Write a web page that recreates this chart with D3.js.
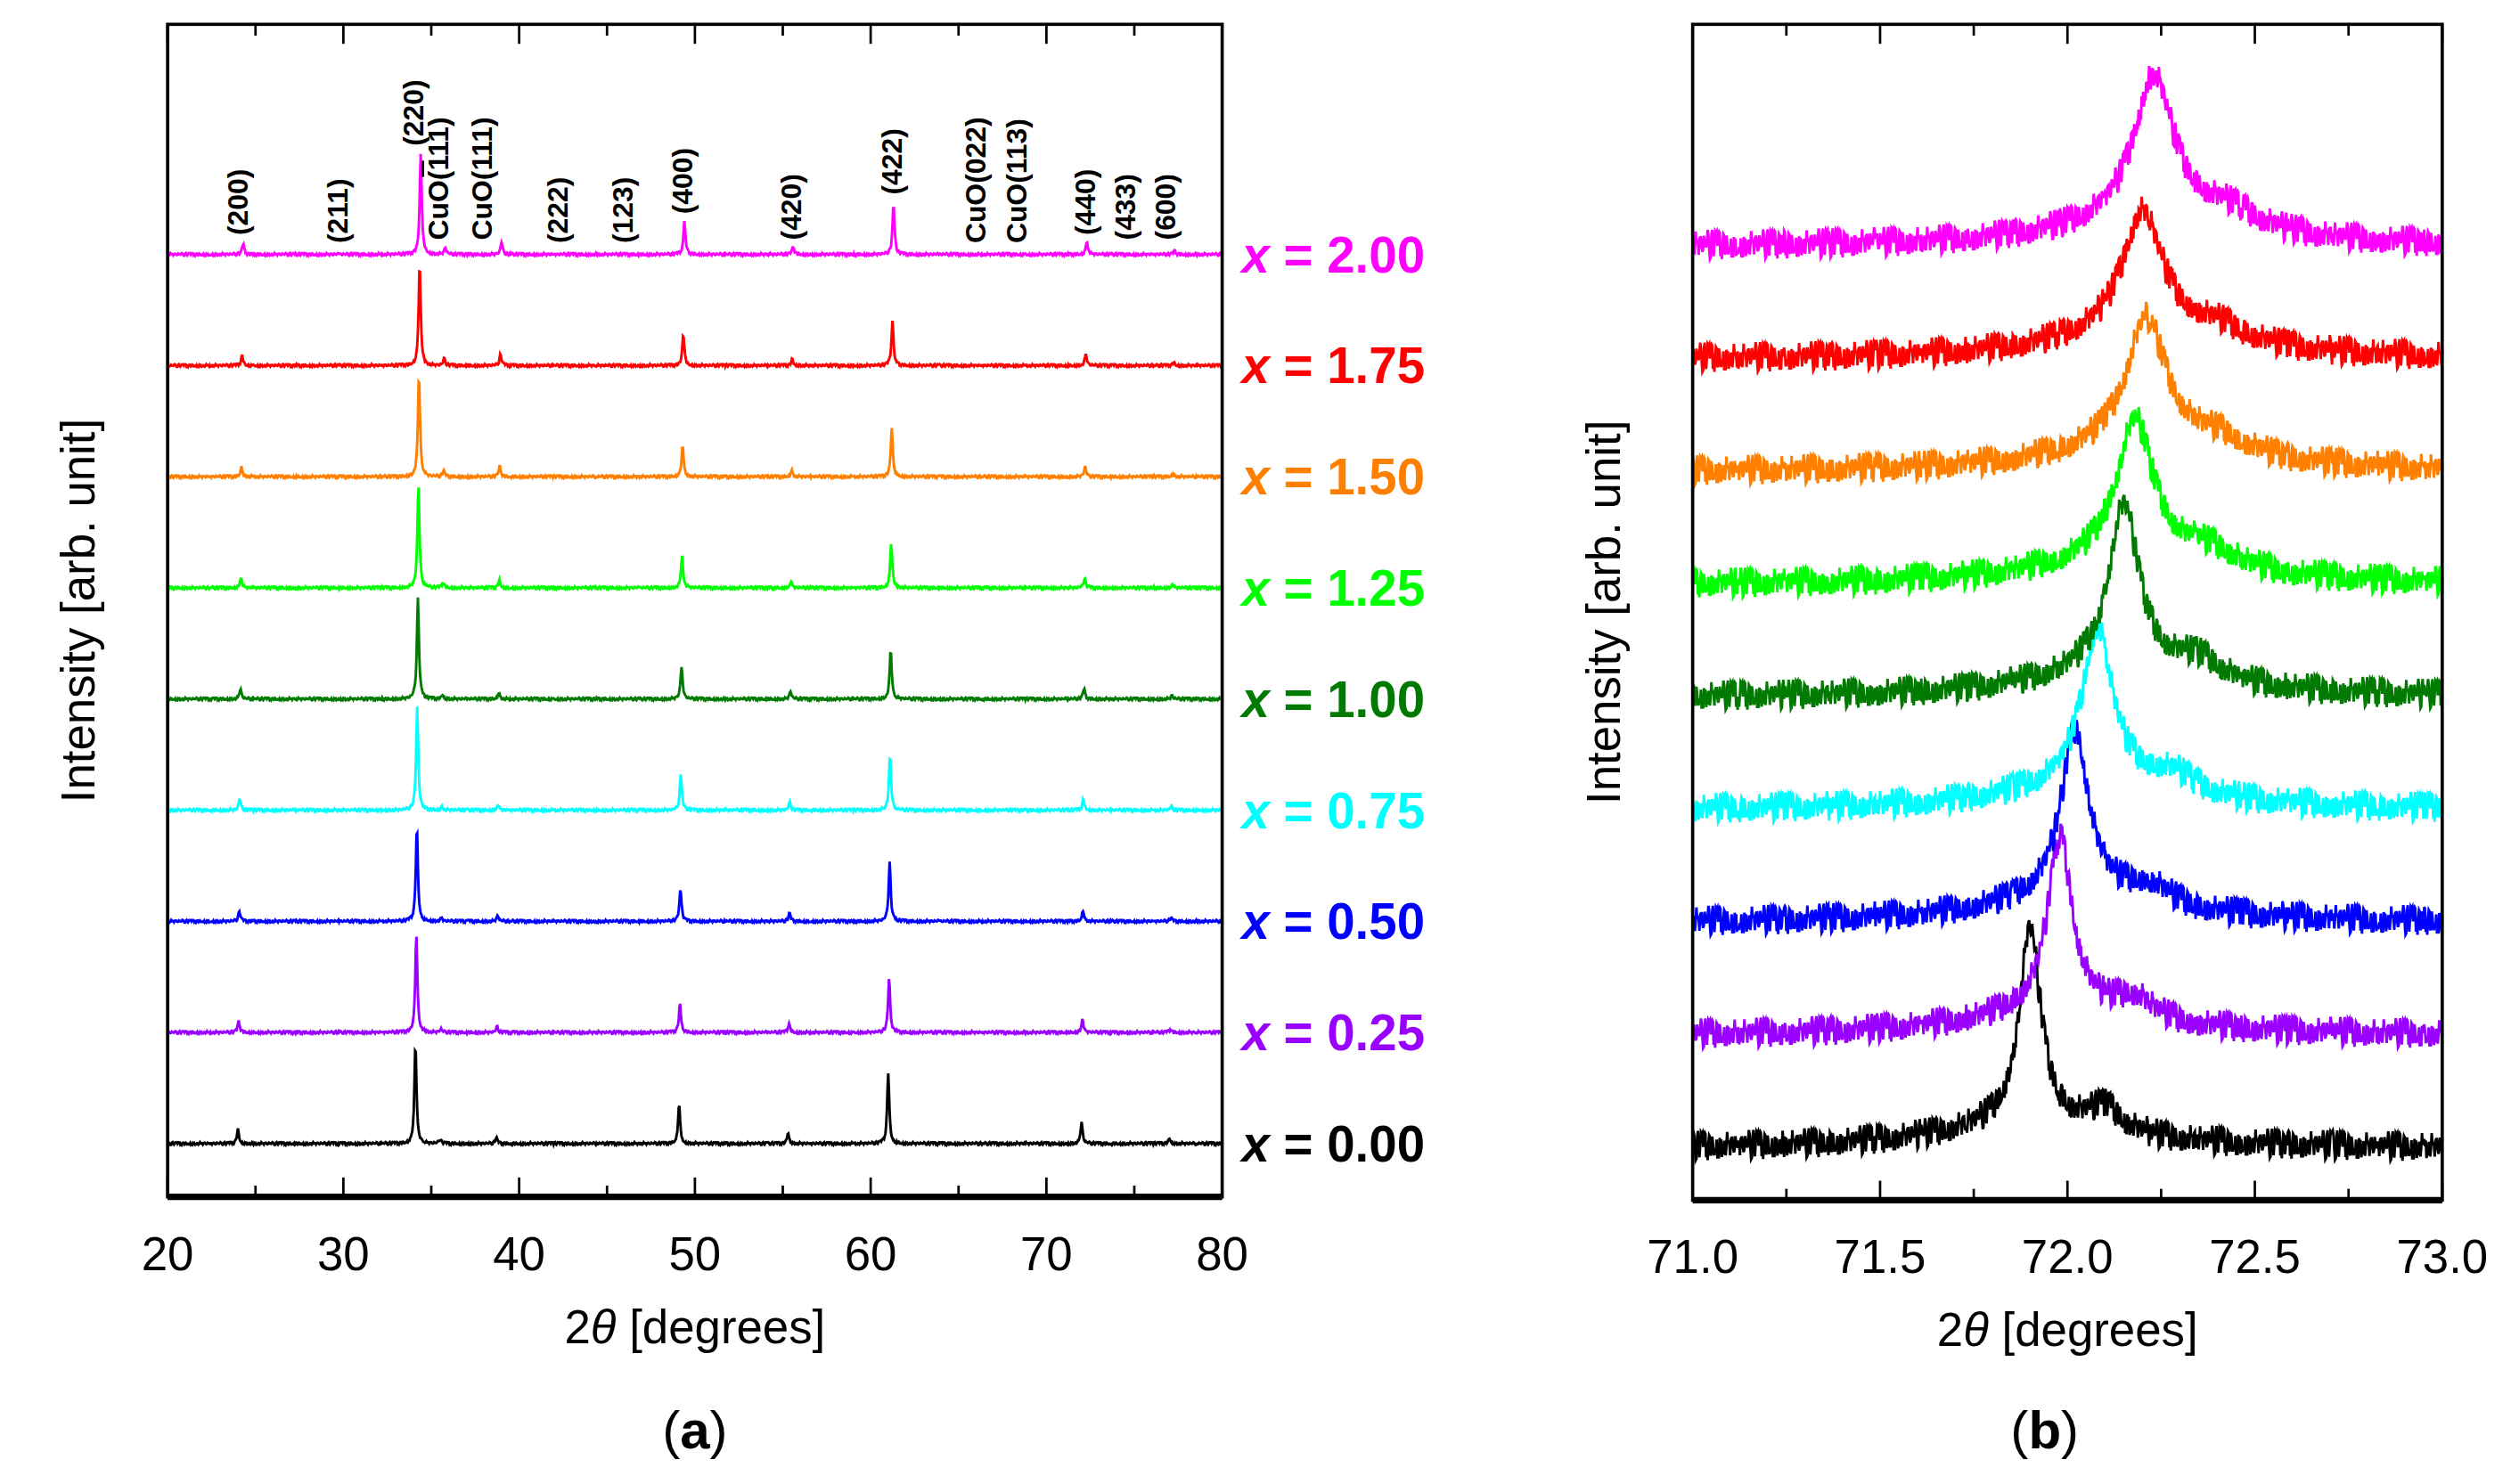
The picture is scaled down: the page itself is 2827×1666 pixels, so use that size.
<!DOCTYPE html>
<html><head><meta charset="utf-8">
<script src="https://cdn.jsdelivr.net/npm/d3@7"></script>
<style>body{margin:0;background:#fff}svg{display:block}text{font-family:"Liberation Sans",Arial,sans-serif}</style>
</head><body><div id="graphicContainer"></div>
<script>
// series, bottom to top
const xLabels = ["0.00","0.25","0.50","0.75","1.00","1.25","1.50","1.75","2.00"]
const colors = ["#000000","#9900ff","#0000ff","#00ffff","#007a00","#00ff00","#ff8000","#ff0000","#ff00ff"]

// panel (a): peak positions for x = 0 and the shift of each series
const peaksA = [24.0, 34.1, 35.5, 38.7, 49.1, 55.3, 61.0, 72.0, 77.0]
const shiftA = [0, 0.05, 0.08, 0.1, 0.14, 0.17, 0.2, 0.24, 0.3]
// heights in units of baseline spacing
const heightsA = [
	[0.13, 0.90, 0.04, 0.05, 0.36, 0.10, 0.64, 0.19, 0.05],
	[0.10, 0.89, 0.03, 0.05, 0.26, 0.08, 0.48, 0.12, 0.03],
	[0.09, 0.85, 0.03, 0.05, 0.29, 0.07, 0.53, 0.10, 0.03],
	[0.10, 0.92, 0.03, 0.05, 0.32, 0.07, 0.49, 0.10, 0.03],
	[0.09, 0.90, 0.04, 0.06, 0.29, 0.07, 0.44, 0.09, 0.03],
	[0.09, 0.92, 0.05, 0.07, 0.29, 0.06, 0.41, 0.09, 0.03],
	[0.09, 0.92, 0.05, 0.09, 0.29, 0.06, 0.44, 0.09, 0.03],
	[0.09, 0.92, 0.06, 0.10, 0.29, 0.06, 0.40, 0.10, 0.03],
	[0.09, 0.90, 0.06, 0.11, 0.29, 0.07, 0.44, 0.12, 0.03]
]
const hklLabels = [
	{t:"(200)", x:24.0, b:145}, {t:"(211)", x:29.7, b:150}, {t:"(220)", x:34.0, b:90},
	{t:"CuO(111)", x:35.4, b:148, bar:true}, {t:"CuO(111)", x:37.9, b:148},
	{t:"(222)", x:42.2, b:150}, {t:"(123)", x:45.9, b:150}, {t:"(400)", x:49.3, b:132},
	{t:"(420)", x:55.5, b:148}, {t:"(422)", x:61.2, b:120},
	{t:"CuO(022)", x:66.0, b:150}, {t:"CuO(113)", x:68.3, b:150},
	{t:"(440)", x:72.2, b:145}, {t:"(433)", x:74.5, b:148}, {t:"(600)", x:76.8, b:148}
]

// panel (b): (440) peak per series
const peakB = [71.90, 71.98, 72.02, 72.08, 72.15, 72.18, 72.21, 72.20, 72.23]
const heightB = [1.75, 1.55, 1.5, 1.4, 1.5, 1.25, 1.15, 1.1, 1.3]
const widthB = [0.035, 0.04, 0.045, 0.05, 0.05, 0.06, 0.065, 0.065, 0.065]

// fixed jitter pattern for the measured noise
const noise = [0.3,-0.8,0.5,-0.2,0.9,-0.6,0.1,-1,0.7,-0.4,0.2,0.8,-0.9,0.4,-0.1,0.6,-0.7,1,-0.3,0.0,
	-0.5,0.8,-0.2,0.3,-0.9,0.6,-0.6,0.1,0.9,-0.4,0.5,-0.8,0.2,-0.1,0.7,-1,0.4,-0.3,0.9,-0.5,
	0.1,0.6,-0.7,0.3,-0.2,0.8,-0.9,0.5,0.0,-0.6,0.9,-0.3,0.2,-0.8,0.6,-0.1,0.4,-0.7,1,-0.4,0.15]

const svg = d3.select("#graphicContainer").append("svg")
	.attr("width", 2827).attr("height", 1666).attr("viewBox", "0 0 1552 915")

function lor(x, c, w) { return 1 / (1 + ((x - c) / w) ** 2) }
function jit(k, i) { return noise[(k * 17 + Math.floor(k / 61) * 23 + i * 13) % noise.length] }

function panel(left, right, top, bottom, dom, majorStep, minorStep, fmt, yDom) {
	const x = d3.scaleLinear().domain(dom).range([left, right])
	const y = d3.scaleLinear().domain(yDom).range([bottom, top])
	const g = svg.append("g")
	const minor = d3.range(dom[0], dom[1] + 1e-9, minorStep)
	const major = d3.range(dom[0], dom[1] + 1e-9, majorStep)
	minor.forEach(v => {
		const isMaj = major.some(m => Math.abs(m - v) < 1e-6)
		const L = isMaj ? 12 : 7
		g.append("line").attr("x1", x(v)).attr("x2", x(v)).attr("y1", bottom).attr("y2", bottom - L).attr("stroke", "#000").attr("stroke-width", 1.5)
		g.append("line").attr("x1", x(v)).attr("x2", x(v)).attr("y1", top).attr("y2", top + L).attr("stroke", "#000").attr("stroke-width", 1.5)
	})
	major.forEach(v => g.append("text").attr("x", x(v)).attr("y", bottom + 45).attr("text-anchor", "middle")
		.attr("font-size", 29).text(fmt(v)))
	const title = g.append("text").attr("x", (left + right) / 2).attr("y", bottom + 90).attr("text-anchor", "middle").attr("font-size", 29)
	title.append("tspan").text("2")
	title.append("tspan").attr("font-style", "italic").text("\u03b8")
	title.append("tspan").text(" [degrees]")
	g.append("text").attr("transform", `translate(${left - 45},${(top + bottom) / 2}) rotate(-90)`)
		.attr("text-anchor", "middle").attr("font-size", 29).text("Intensity [arb. unit]")
	return {x, y, g, frame: () => {
		g.append("rect").attr("x", left).attr("y", top).attr("width", right - left).attr("height", bottom - top)
			.attr("fill", "none").attr("stroke", "#000").attr("stroke-width", 2)
		g.append("line").attr("x1", left).attr("x2", right).attr("y1", bottom).attr("y2", bottom).attr("stroke", "#000").attr("stroke-width", 4)
	}}
}

// ---------- panel (a)
const A = panel(103, 753, 15, 738, [20, 80], 10, 5, d => d, [-0.48, 10.07])
const xsA = d3.range(20, 80.0001, 0.04)
xLabels.forEach((lab, i) => {
	const pts = xsA.map((t, k) => {
		let v = i + jit(k, i) * 0.012
		peaksA.forEach((p, j) => { v += heightsA[i][j] * lor(t, p + shiftA[i], 0.07) })
		return [A.x(t), A.y(v)]
	})
	A.g.append("path").attr("d", d3.line()(pts)).attr("fill", "none").attr("stroke", colors[i]).attr("stroke-width", 1.6)
	const lt = A.g.append("text").attr("x", 765).attr("y", A.y(i) + 11).attr("font-size", 31).attr("font-weight", "bold").attr("fill", colors[i])
	lt.append("tspan").attr("font-style", "italic").text("x")
	lt.append("tspan").text(" = " + lab)
})
hklLabels.forEach(h => {
	const t = A.g.append("text").attr("transform", `translate(${A.x(h.x) + 6},${h.b}) rotate(-90)`)
		.attr("font-size", 17.5).attr("font-weight", "bold").text(h.t)
	if (h.bar) {
		// overbar above the first index of CuO(-111)
		const w = t.node().getComputedTextLength()
		A.g.append("line").attr("x1", A.x(h.x) - 9.5).attr("x2", A.x(h.x) - 9.5)
			.attr("y1", h.b - w * 0.5 - 1).attr("y2", h.b - w * 0.5 - 11).attr("stroke", "#000").attr("stroke-width", 1.5)
	}
})
A.frame()
svg.append("text").attr("x", 428).attr("y", 893).attr("text-anchor", "middle").attr("font-size", 33)
	.attr("font-family", "Liberation Serif, serif").html("(<tspan font-weight='bold'>a</tspan>)")

// ---------- panel (b)
const B = panel(1043, 1505, 15, 740, [71, 73], 0.5, 0.25, d => d.toFixed(1), [-0.46, 9.97])
const xsB = d3.range(71, 73.0001, 0.002)
xLabels.forEach((lab, i) => {
	const pts = xsB.map((t, k) => {
		let v = i + jit(k, i) * 0.13
		v += heightB[i] * lor(t, peakB[i], widthB[i])
		v += heightB[i] * 0.12 * lor(t, peakB[i] + 0.2, widthB[i] * 1.5)
		v += 0.2 * lor(t, peakB[i], 0.3)
		return [B.x(t), B.y(v)]
	})
	B.g.append("path").attr("d", d3.line()(pts)).attr("fill", "none").attr("stroke", colors[i]).attr("stroke-width", 1.6)
})
B.frame()
svg.append("text").attr("x", 1260).attr("y", 893).attr("text-anchor", "middle").attr("font-size", 33)
	.attr("font-family", "Liberation Serif, serif").html("(<tspan font-weight='bold'>b</tspan>)")
</script></body></html>
